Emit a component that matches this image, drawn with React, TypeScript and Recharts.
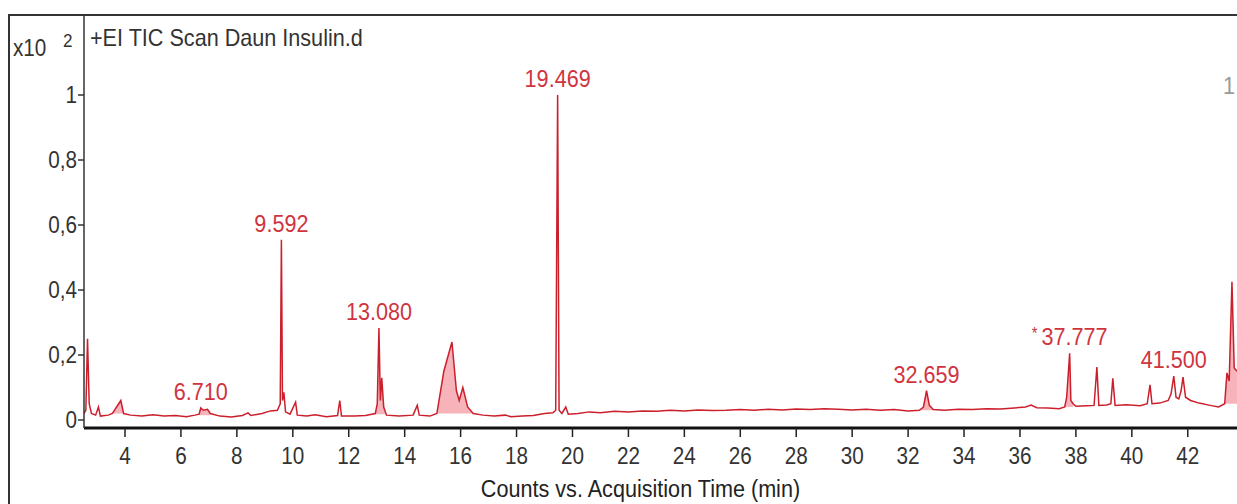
import React from 'react';
import { ComposedChart, Line, Area, XAxis, YAxis, ReferenceDot, Label } from 'recharts';

// retention time (min) and abundance (x10^2 counts)
const rtMin = [
  2.53, 2.6, 2.66, 2.72, 2.8, 2.95, 3.05, 3.12, 3.4, 3.55, 3.85, 3.95, 4.2, 4.6, 5.0, 5.4, 5.8, 6.2, 6.5, 6.65,
  6.71, 6.8, 6.95, 7.05, 7.4, 7.8, 8.2, 8.4, 8.5, 8.9, 9.2, 9.45, 9.55, 9.592, 9.63, 9.68, 9.74, 9.9, 10.1, 10.16,
  10.5, 10.8, 11.2, 11.6, 11.68, 11.74, 12.2, 12.6, 12.95, 13.02, 13.08, 13.13, 13.18, 13.25, 13.35, 13.8, 14.3, 14.45, 14.52, 14.9,
  15.15, 15.4, 15.69, 15.85, 15.95, 16.08, 16.25, 16.45, 16.8, 17.2, 17.6, 17.8, 18.2, 18.6, 19.0, 19.3, 19.4, 19.469, 19.52, 19.62,
  19.76, 19.85, 20.2, 20.6, 21.0, 21.5, 22.0, 22.5, 23.0, 23.5, 24.0, 24.5, 25.0, 25.5, 26.0, 26.5, 27.0, 27.5, 28.0, 28.5,
  29.0, 29.5, 30.0, 30.5, 31.0, 31.5, 32.0, 32.4, 32.55, 32.659, 32.76, 32.9, 33.3, 33.8, 34.3, 34.8, 35.3, 35.8, 36.2, 36.4,
  36.6, 37.0, 37.4, 37.6, 37.67, 37.777, 37.82, 37.9, 38.0, 38.4, 38.65, 38.75, 38.82, 39.1, 39.25, 39.32, 39.4, 39.8, 40.3, 40.55,
  40.65, 40.72, 41.0, 41.3, 41.4, 41.5, 41.58, 41.68, 41.76, 41.83, 41.92, 42.1, 42.4, 42.8, 43.1, 43.32, 43.4, 43.48, 43.58, 43.66,
  43.76,
];
const counts = [
  0.02, 0.03, 0.25, 0.05, 0.02, 0.015, 0.04, 0.012, 0.015, 0.02, 0.06, 0.02, 0.015, 0.012, 0.016, 0.012, 0.014, 0.01, 0.015, 0.018,
  0.037, 0.03, 0.033, 0.02, 0.012, 0.009, 0.014, 0.022, 0.014, 0.02, 0.028, 0.03, 0.05, 0.555, 0.06, 0.085, 0.025, 0.018, 0.055, 0.015,
  0.012, 0.016, 0.01, 0.014, 0.06, 0.012, 0.012, 0.014, 0.02, 0.05, 0.283, 0.06, 0.13, 0.04, 0.015, 0.012, 0.015, 0.045, 0.015, 0.012,
  0.02, 0.15, 0.24, 0.09, 0.06, 0.1, 0.04, 0.02, 0.015, 0.012, 0.015, 0.01, 0.012, 0.014, 0.02, 0.022, 0.03, 1.0, 0.03, 0.02,
  0.04, 0.018, 0.02, 0.025, 0.022, 0.027, 0.025, 0.028, 0.027, 0.03, 0.028, 0.031, 0.029, 0.03, 0.032, 0.03, 0.033, 0.031, 0.034, 0.032,
  0.035, 0.033, 0.031, 0.033, 0.03, 0.032, 0.028, 0.03, 0.04, 0.09, 0.045, 0.032, 0.03, 0.033, 0.032, 0.035, 0.034, 0.037, 0.04, 0.046,
  0.038, 0.037, 0.035, 0.04, 0.07, 0.205, 0.06, 0.05, 0.042, 0.044, 0.045, 0.163, 0.045, 0.046, 0.05, 0.128, 0.045, 0.047, 0.044, 0.05,
  0.108, 0.05, 0.052, 0.06, 0.08, 0.135, 0.07, 0.065, 0.09, 0.132, 0.07, 0.06, 0.052, 0.045, 0.04, 0.05, 0.145, 0.12, 0.425, 0.16,
  0.15,
];

// integrated (shaded) peak windows
const bandStart = [3.55, 6.65, 12.95, 15.15, 32.4, 37.6, 43.32];
const bandEnd = [3.95, 7.05, 13.35, 16.45, 32.9, 37.9, 43.76];
const bandBase = [0.02, 0.015, 0.018, 0.02, 0.03, 0.04, 0.05];

// labelled peaks
const peakRt = [6.71, 9.592, 13.08, 19.469, 32.659, 37.777, 41.5];
const peakTop = [0.037, 0.555, 0.283, 1.0, 0.09, 0.205, 0.135];
const peakText = ['6.710', '9.592', '13.080', '19.469', '32.659', '37.777', '41.500'];
const peakStar = [false, false, false, false, false, true, false];

const xTicks = [4, 6, 8, 10, 12, 14, 16, 18, 20, 22, 24, 26, 28, 30, 32, 34, 36, 38, 40, 42];
const yTicks = [0, 0.2, 0.4, 0.6, 0.8, 1];

const FONT = "'Liberation Sans', Arial, sans-serif";
const NARROW = 0.9;
const RED = '#d0343f';
const INK = '#333';

const data = rtMin.map((t, i) => {
  const b = bandStart.findIndex((s, k) => t >= s && t <= bandEnd[k]);
  return { t, v: counts[i], band: b >= 0 ? [bandBase[b], counts[i]] : null };
});

const fmtY = (v: number) => (v === 0 || v === 1 ? String(v) : v.toFixed(1).replace('.', ','));

const XTick = (props: any) => {
  const { x, y, payload } = props;
  return (
    <text transform={`translate(${x},${y}) scale(${NARROW},1)`} textAnchor="middle" dy="0.71em" fontFamily={FONT} fontSize={23} fill={INK}>
      {payload.value}
    </text>
  );
};

const YTick = (props: any) => {
  const { x, y, payload } = props;
  return (
    <text transform={`translate(${x},${y}) scale(${NARROW},1)`} textAnchor="end" dy="0.355em" fontFamily={FONT} fontSize={23} fill={INK}>
      {fmtY(payload.value)}
    </text>
  );
};

const AxisTitle = (props: any) => {
  const { viewBox } = props;
  const x = viewBox.x + viewBox.width / 2 - 20;
  const y = viewBox.y + 69;
  return (
    <text transform={`translate(${x},${y}) scale(${NARROW},1)`} textAnchor="middle" fontFamily={FONT} fontSize={24} fill="#222">
      Counts vs. Acquisition Time (min)
    </text>
  );
};

const PeakLabel = (props: any) => {
  const { viewBox, text, star } = props;
  const x = viewBox.x;
  const y = viewBox.y - 8;
  return (
    <text transform={`translate(${x},${y}) scale(${NARROW},1)`} textAnchor="middle" fontFamily={FONT} fontSize={24} fill={RED}>
      {star && <tspan fontSize={16} dy={-6}>* </tspan>}
      {star ? <tspan dy={6}>{text}</tspan> : text}
    </text>
  );
};

const narrowDiv = (left: number, top: number, size: number, color: string): React.CSSProperties => ({
  position: 'absolute',
  left,
  top,
  fontSize: size,
  color,
  lineHeight: 1,
  whiteSpace: 'nowrap',
  transform: `scaleX(${NARROW})`,
  transformOrigin: 'left top',
});

export default function App() {
  return (
    <div style={{ position: 'fixed', left: 0, top: 0, width: 1237, height: 504, overflow: 'hidden', background: '#fff' }}>
      <style>{'svg.recharts-surface { overflow: visible; }'}</style>
      <div
        style={{
          position: 'absolute',
          left: 8,
          top: 14,
          width: 1227,
          height: 488,
          borderTop: '2px solid #333',
          borderLeft: '2px solid #333',
          fontFamily: FONT,
        }}
      >
        <div style={narrowDiv(3, 21, 23, INK)}>x10</div>
        <div style={narrowDiv(53, 15, 19, INK)}>2</div>
        <div style={narrowDiv(80, 10, 24, INK)}>+EI TIC Scan Daun Insulin.d</div>
        <div style={narrowDiv(1213, 58, 24, '#999')}>1</div>
        <ComposedChart width={1227} height={488} data={data} margin={{ top: 0, right: 0, bottom: 0, left: 0 }}>
          <XAxis
            dataKey="t"
            type="number"
            domain={[2.534, 43.76]}
            allowDataOverflow
            ticks={xTicks}
            height={76}
            tickSize={9}
            tickMargin={11}
            axisLine={{ stroke: '#111', strokeWidth: 3 }}
            tickLine={{ stroke: '#222', strokeWidth: 1.5 }}
            tick={<XTick />}
          >
            <Label content={<AxisTitle />} />
          </XAxis>
          <YAxis
            type="number"
            domain={[-0.0246, 1.2431]}
            allowDataOverflow
            ticks={yTicks}
            width={74}
            tickSize={6}
            tickMargin={1}
            axisLine={{ stroke: '#333', strokeWidth: 1.5 }}
            tickLine={{ stroke: '#333', strokeWidth: 1.5 }}
            tick={<YTick />}
          />
          <Area
            dataKey="band"
            type="linear"
            stroke="none"
            fill="#f39aa2"
            fillOpacity={0.75}
            connectNulls={false}
            isAnimationActive={false}
          />
          <Line dataKey="v" type="linear" stroke="#cc1f2c" strokeWidth={1.5} dot={false} isAnimationActive={false} />
          {peakRt.map((rt, i) => (
            <ReferenceDot
              key={peakText[i]}
              x={rt}
              y={peakTop[i]}
              r={0}
              stroke="none"
              label={<PeakLabel text={peakText[i]} star={peakStar[i]} />}
            />
          ))}
        </ComposedChart>
      </div>
    </div>
  );
}
